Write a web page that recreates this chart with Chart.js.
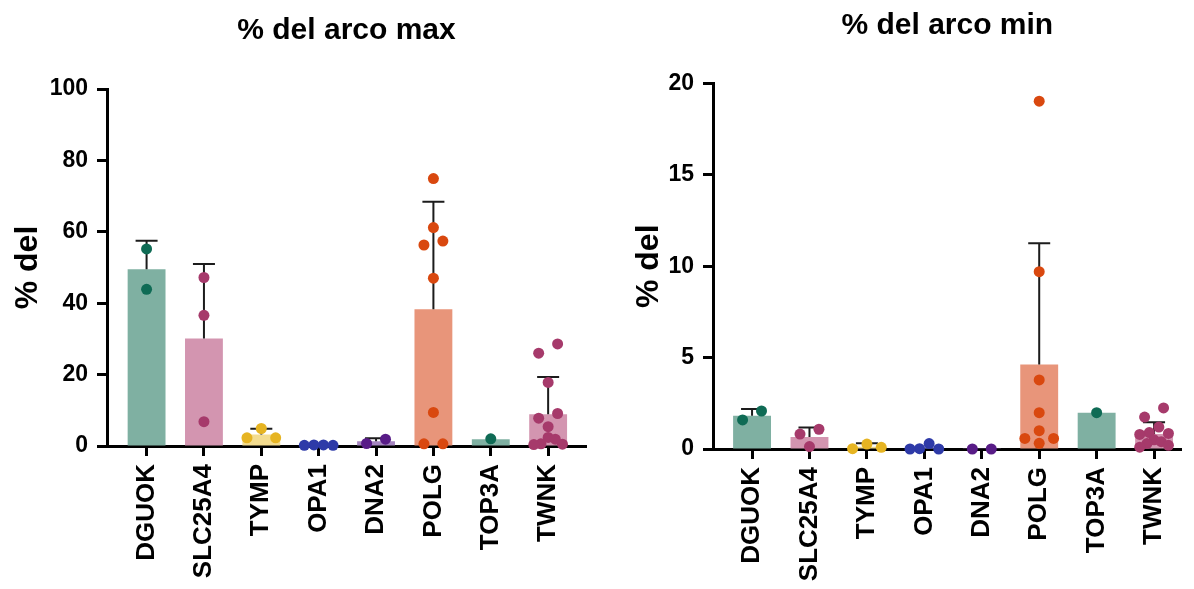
<!DOCTYPE html>
<html>
<head>
<meta charset="utf-8">
<script src="https://cdn.jsdelivr.net/npm/chart.js@4/dist/chart.umd.min.js"></script>
<style>
  body { margin: 0; background: #fff; }
  canvas { position: absolute; top: 0; }
</style>
</head>
<body>
<canvas id="maxChart" width="600" height="589" style="left:0"></canvas>
<canvas id="minChart" width="594" height="589" style="left:600px"></canvas>
<script>
const genes = ['DGUOK', 'SLC25A4', 'TYMP', 'OPA1', 'DNA2', 'POLG', 'TOP3A', 'TWNK'];
const barColors = ['#7fb0a2', '#d395b0', '#f3dc8f', '#8e94d0', '#a585c0', '#e8957a', '#7fb0a2', '#d395b0'];
const dotColors = ['#0f6b55', '#a63a6b', '#e6b422', '#2e3aa8', '#581c87', '#d9480f', '#0f6b55', '#a63a6b'];

// % del, arco max
const maxMeans = [49.5, 30.1, 3.2, 0.2, 1.3, 38.3, 1.9, 8.9];
const maxSd = [8.0, 20.9, 1.6, 0, 0.9, 30.1, 0, 10.4];
const maxPoints = [
  [55.2, 43.9],
  [47.2, 36.6, 6.8],
  [4.9, 2.3, 2.3],
  [0.3, 0.2, 0.3, 0.2],
  [1.9, 0.7],
  [74.9, 61.2, 57.4, 56.3, 47.0, 9.4, 0.6, 0.6],
  [2.0],
  [28.6, 26.0, 17.8, 9.1, 7.8, 5.4, 2.4, 1.9, 0.6, 0.5, 0.4]
];
const maxTicks = [0, 20, 40, 60, 80, 100];

// % del, arco min
const minMeans = [1.82, 0.66, 0.12, 0.08, 0.02, 4.62, 1.99, 0.82];
const minSd = [0.37, 0.51, 0.19, 0, 0, 6.64, 0, 0.64];
const minPoints = [
  [2.08, 1.59],
  [1.08, 0.82, 0.13],
  [0.27, 0.02, 0.09],
  [0.3, 0.02, 0.0, 0.0],
  [0.0, 0.0],
  [19.03, 9.7, 3.78, 1.99, 1.0, 0.58, 0.58, 0.31],
  [1.99],
  [2.25, 1.75, 1.2, 0.9, 0.85, 0.8, 0.5, 0.4, 0.3, 0.2, 0.1]
];
const minTicks = [0, 5, 10, 15, 20];

const FONT = "'Liberation Sans', Arial, Helvetica, sans-serif";

// spread dots with close values sideways (dot plot style)
function swarm(values, gap) {
  const sorted = [...values].sort((a, b) => b - a);
  const out = [];
  let i = 0;
  while (i < sorted.length) {
    let j = i + 1;
    while (j < sorted.length && sorted[i] - sorted[j] < gap) j++;
    const row = sorted.slice(i, j);
    const n = row.length;
    const step = n > 1 ? Math.min(0.33, 0.5 / (n - 1)) : 0;
    const slots = row.map((_, k) => k - (n - 1) / 2)
      .sort((a, b) => Math.abs(a) - Math.abs(b) || b - a);
    row.forEach((v, k) => out.push({ dx: slots[k] * step, y: v }));
    i = j;
  }
  return out;
}

function makeChart(id, cfg) {
  const dots = [];
  const dotFill = [];
  cfg.points.forEach((vals, i) => {
    swarm(vals, cfg.yMax * 0.027).forEach(p => {
      dots.push({ x: i + p.dx, y: p.y });
      dotFill.push(dotColors[i]);
    });
  });

  // one-sided SD whiskers, drawn over the bars but under the dots
  const errorBars = {
    id: 'errorBars',
    afterDatasetDraw(chart, args) {
      if (args.index !== 0) return;
      const { ctx, scales: { x, y } } = chart;
      ctx.save();
      ctx.strokeStyle = '#1c1c1c';
      ctx.lineWidth = 2;
      cfg.means.forEach((m, i) => {
        const sd = cfg.sd[i];
        if (!sd) return;
        const px = x.getPixelForValue(i);
        const y0 = y.getPixelForValue(m);
        const y1 = y.getPixelForValue(m + sd);
        ctx.beginPath();
        ctx.moveTo(px, y0);
        ctx.lineTo(px, y1);
        ctx.moveTo(px - 11, y1);
        ctx.lineTo(px + 11, y1);
        ctx.stroke();
      });
      ctx.restore();
    }
  };

  return new Chart(document.getElementById(id), {
    type: 'bar',
    data: {
      datasets: [{
        type: 'bar',
        data: cfg.means.map((m, i) => ({ x: i, y: m })),
        backgroundColor: barColors,
        borderWidth: 0,
        barPercentage: 0.66,
        categoryPercentage: 1,
        order: 1
      }, {
        type: 'scatter',
        data: dots,
        pointRadius: 5.5,
        pointBackgroundColor: dotFill,
        pointBorderWidth: 0,
        clip: false,
        order: 0
      }]
    },
    options: {
      responsive: false,
      animation: false,
      layout: { padding: { left: 0, right: cfg.padRight, top: 0, bottom: 0 } },
      plugins: {
        legend: { display: false },
        tooltip: { enabled: false },
        title: {
          display: true,
          text: cfg.title,
          fullSize: false,
          color: '#000',
          font: { family: FONT, size: 30, weight: 'bold' },
          padding: cfg.titlePad
        }
      },
      scales: {
        x: {
          type: 'linear',
          min: cfg.xMin,
          max: cfg.xMax,
          offset: false,
          afterFit: s => { s.height = cfg.xHeight; },
          afterBuildTicks: s => { s.ticks = genes.map((_, i) => ({ value: i })); },
          grid: { display: true, offset: false, drawOnChartArea: false, tickLength: 10, tickWidth: 3, tickColor: '#000' },
          border: { display: true, color: '#000', width: 3 },
          ticks: {
            autoSkip: false,
            minRotation: 90,
            maxRotation: 90,
            padding: 8,
            color: '#000',
            font: { family: FONT, size: 26, weight: 'bold' },
            callback: v => genes[v]
          }
        },
        y: {
          min: 0,
          max: cfg.yMax,
          afterFit: s => { s.width = cfg.yWidth; },
          afterBuildTicks: s => { s.ticks = cfg.ticks.map(v => ({ value: v })); },
          grid: { display: true, drawOnChartArea: false, tickLength: 10, tickWidth: 3, tickColor: '#000' },
          border: { display: true, color: '#000', width: 3 },
          ticks: {
            padding: 9,
            color: '#000',
            font: { family: FONT, size: 23, weight: 'bold' }
          },
          title: {
            display: true,
            text: '% del',
            color: '#000',
            font: { family: FONT, size: 32, weight: 'bold' },
            padding: { top: cfg.yTitlePad, bottom: 0 }
          }
        }
      }
    },
    plugins: [errorBars]
  });
}

makeChart('maxChart', {
  title: '% del arco max',
  means: maxMeans, sd: maxSd, points: maxPoints, ticks: maxTicks,
  yMax: 100, xMin: -0.69, xMax: 7.66,
  yWidth: 107, xHeight: 143, padRight: 14,
  titlePad: { top: 13, bottom: 40 }, yTitlePad: 9
});

makeChart('minChart', {
  title: '% del arco min',
  means: minMeans, sd: minSd, points: minPoints, ticks: minTicks,
  yMax: 20, xMin: -0.68, xMax: 7.48,
  yWidth: 113, xHeight: 140, padRight: 0,
  titlePad: { top: 8, bottom: 39.5 }, yTitlePad: 30
});
</script>
</body>
</html>
